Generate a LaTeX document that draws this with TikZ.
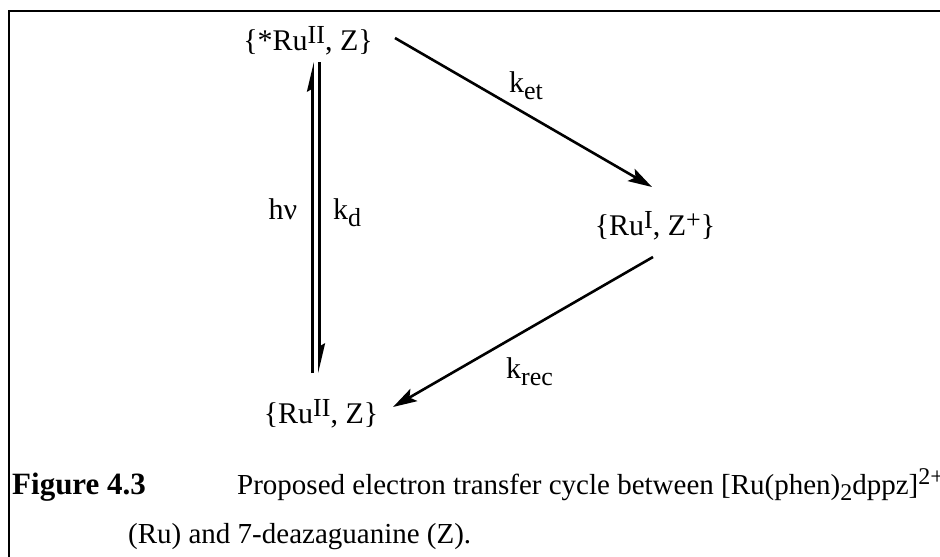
\documentclass[tikz,border=0pt]{standalone}
\usepackage{fontspec}
\setmainfont{Liberation Serif}
\usetikzlibrary{arrows.meta}
\newcommand{\mysub}[1]{\raisebox{-7pt}{\fontsize{26}{26}\selectfont #1}}
\newcommand{\mysup}[1]{\raisebox{7pt}{\fontsize{26}{26}\selectfont #1}}
\newcommand{\capsub}[1]{\raisebox{-6pt}{\fontsize{24}{24}\selectfont #1}}
\newcommand{\capsup}[1]{\raisebox{10pt}{\fontsize{24}{24}\selectfont #1}}
\tikzset{
  lbl/.style={inner sep=0pt, anchor=base, font=\fontsize{30}{36}\selectfont},
  captext/.style={inner sep=0pt, anchor=base west, font=\fontsize{29}{34}\selectfont},
  rxn/.style={line width=2.6pt, -{Stealth[length=24pt,width=14pt,inset=5pt]}},
  harp/.style={line width=2.6pt, -{Stealth[harpoon,length=24pt,width=11pt,inset=3pt]}},
  frameline/.style={line width=2.6pt}
}
\begin{document}
\begin{tikzpicture}[x=1pt,y=-1pt]
\useasboundingbox (0,0) rectangle (940,557);
\draw[frameline] (9,600) -- (9,11) -- (960,11);
% species
\node[lbl] (ex) at (308,50) {\{*Ru\mysup{II}, Z\}};
\node[lbl] (cs) at (655,235) {\{Ru\mysup{I}, Z\mysup{+}\}};
\node[lbl] (gs) at (321,423) {\{Ru\mysup{II}, Z\}};
% arrow ends
\coordinate (etA) at (395,38);
\coordinate (etB) at (652,187);
\coordinate (recA) at (653,257);
\coordinate (recB) at (393,407);
\coordinate (upA) at (312.5,373);
\coordinate (upB) at (312.5,62);
\coordinate (dnA) at (319.5,62);
\coordinate (dnB) at (319.5,373);
\draw[rxn] (etA) -- (etB);
\draw[rxn] (recA) -- (recB);
\draw[harp] (upA) -- (upB);
\draw[harp] (dnA) -- (dnB);
% rate labels
\node[lbl, anchor=base west] (ket) at (509,92) {k\mysub{et}};
\node[lbl] (hv) at (283,219) {hν};
\node[lbl, anchor=base west] (kd) at (333,219) {k\mysub{d}};
\node[lbl, anchor=base west] (krec) at (506,378) {k\mysub{rec}};
% caption
\node[captext, font=\fontsize{31}{34}\selectfont\bfseries] (fig) at (12,494) {Figure 4.3};
\node[captext] (c1) at (237,494) {Proposed electron transfer cycle between [Ru(phen)\capsub{2}dppz]\capsup{2+}};
\node[captext] (c2) at (128,543) {(Ru) and 7-deazaguanine (Z).};
\end{tikzpicture}
\end{document}
